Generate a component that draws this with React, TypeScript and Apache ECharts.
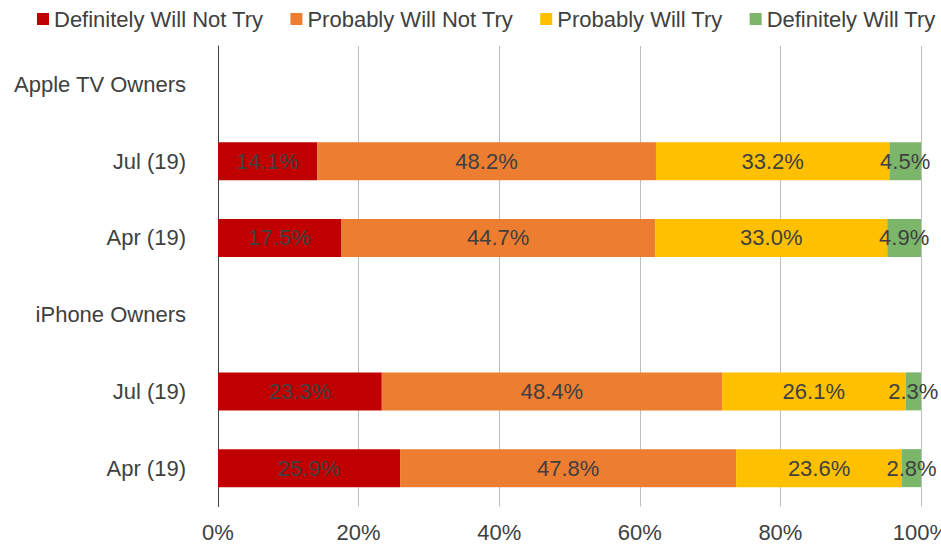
import React, { useEffect, useRef } from "react";
import * as echarts from "echarts";

const categories = ["Apple TV Owners", "Jul (19)", "Apr (19)", "iPhone Owners", "Jul (19)", "Apr (19)"];
const seriesNames = ["Definitely Will Not Try", "Probably Will Not Try", "Probably Will Try", "Definitely Will Try"];
const definitelyNot = [null, 14.1, 17.5, null, 23.3, 25.9];
const probablyNot = [null, 48.2, 44.7, null, 48.4, 47.8];
const probablyWill = [null, 33.2, 33.0, null, 26.1, 23.6];
const definitelyWill = [null, 4.5, 4.9, null, 2.3, 2.8];
const xTicks = [0, 20, 40, 60, 80, 100];
const colors = ["#C00000", "#ED7D31", "#FFC000", "#7CB66A"];

const FONT = "'Liberation Sans', Arial, sans-serif";
const TEXT = "#404040";

export default function App() {
  const ref = useRef<HTMLDivElement>(null);
  useEffect(() => {
    document.body.style.margin = "0";
    document.body.style.overflow = "hidden";
    if (!ref.current) return;
    const chart = echarts.init(ref.current, undefined, { renderer: "svg" });
    const values = [definitelyNot, probablyNot, probablyWill, definitelyWill];
    chart.setOption({
      animation: false,
      textStyle: { fontFamily: FONT },
      legend: {
        left: 37,
        top: 8,
        width: 904,
        padding: 0,
        itemWidth: 12,
        itemHeight: 12,
        itemGap: 27,
        icon: "rect",
        textStyle: { fontSize: 22, color: TEXT, fontFamily: FONT },
        data: seriesNames,
      },
      grid: {
        left: 218,
        right: 20,
        top: 46,
        bottom: 37.5,
        containLabel: false,
        outerBoundsMode: "none",
      },
      xAxis: {
        type: "value",
        min: xTicks[0],
        max: xTicks[xTicks.length - 1],
        interval: 20,
        axisLine: { show: false },
        axisTick: { show: false },
        splitLine: { show: true, lineStyle: { color: "#BFBFBF", width: 1 } },
        axisLabel: {
          formatter: "{value}%",
          fontSize: 22,
          lineHeight: 22,
          color: TEXT,
          fontFamily: FONT,
          margin: 15,
        },
      },
      yAxis: {
        type: "category",
        data: categories,
        inverse: true,
        axisLine: { show: true, lineStyle: { color: "#404040", width: 1 } },
        axisTick: { show: false },
        axisLabel: { fontSize: 22, color: TEXT, fontFamily: FONT, margin: 32 },
      },
      series: seriesNames.map((name, i) => ({
        name,
        type: "bar",
        stack: "total",
        barWidth: 38,
        data: values[i],
        itemStyle: { color: colors[i] },
        label: {
          show: true,
          position: "inside",
          fontSize: 22,
          color: TEXT,
          fontFamily: FONT,
          formatter: (p: any) => (p.value == null ? "" : Number(p.value).toFixed(1) + "%"),
        },
      })),
    });
    return () => chart.dispose();
  }, []);
  return <div ref={ref} style={{ width: 941, height: 544 }} />;
}
